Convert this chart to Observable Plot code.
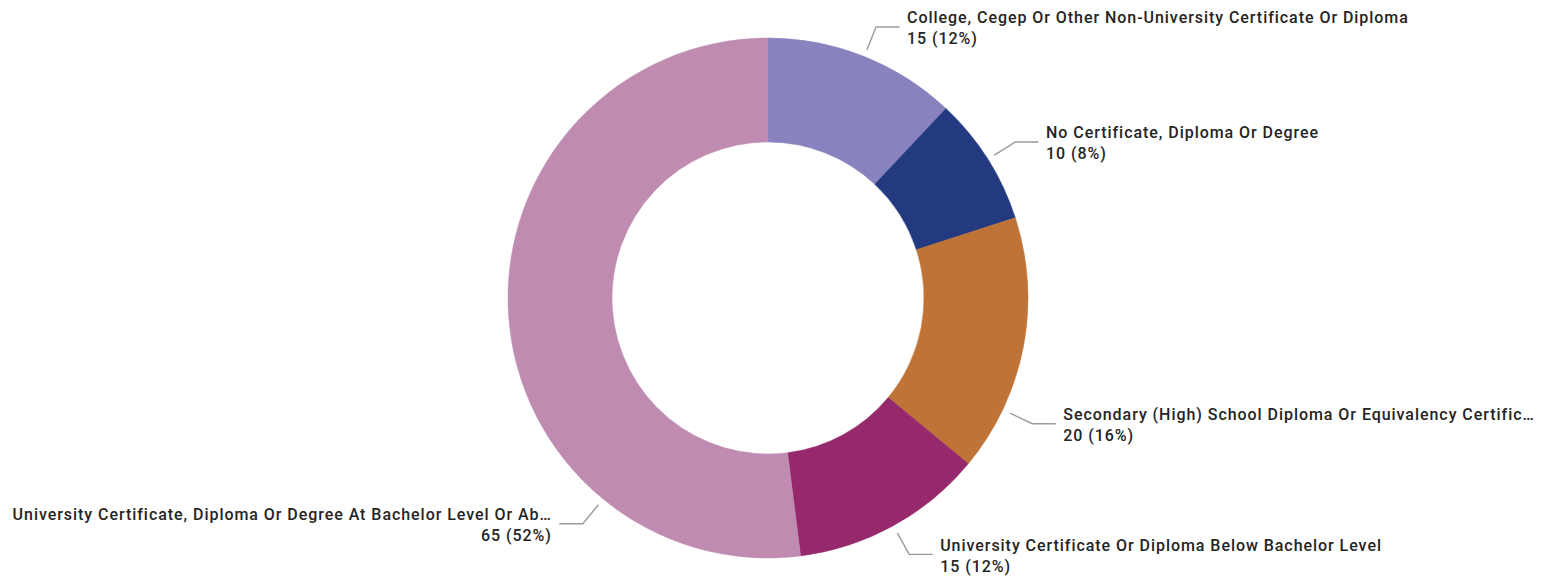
<!DOCTYPE html>
<html>
<head>
<meta charset="utf-8">
<script src="https://cdn.jsdelivr.net/npm/d3@7"></script>
<script src="https://cdn.jsdelivr.net/npm/@observablehq/plot@0.6"></script>
<style>
  html, body { margin: 0; padding: 0; background: #fff; }
  #chart { width: 1546px; height: 580px; }
</style>
</head>
<body>
<div id="chart"></div>
<script>
// ---- data ----
const categories = [
  "College, Cegep Or Other Non-University Certificate Or Diploma",
  "No Certificate, Diploma Or Degree",
  "Secondary (High) School Diploma Or Equivalency Certific…",
  "University Certificate Or Diploma Below Bachelor Level",
  "University Certificate, Diploma Or Degree At Bachelor Level Or Ab…"
];
const values = [15, 10, 20, 15, 65];

// ---- styles / layout ----
const colors = ["#8883bf", "#233a80", "#bf7337", "#95296c", "#bf8bb1"];
const labelAngles = [21.6, 57.6, 115.4, 151.2, 219.5]; // degrees clockwise from top
const W = 1546, H = 580;
const cx = 768, cy = 298, outerR = 260, innerR = 156;
const fontFamily = "Roboto, 'Noto Sans', sans-serif";

const total = d3.sum(values);
const pie = d3.pie().sort(null).value(d => d.value);
const data = categories.map((name, i) => ({
  name, value: values[i], pct: Math.round(values[i] / total * 100),
  color: colors[i], labelAngle: labelAngles[i]
}));
const arcs = pie(data);

// leader lines and labels (positions derived from angles)
const leaders = [];
const labels = [];
data.forEach(d => {
  const a = d.labelAngle * Math.PI / 180;
  const sx = cx + 268 * Math.sin(a), sy = cy - 268 * Math.cos(a);
  const ex = cx + 292 * Math.sin(a), ey = cy - 292 * Math.cos(a);
  const right = Math.sin(a) >= 0;
  const hx = ex + (right ? 23 : -23);
  leaders.push({name: d.name, x: sx, y: sy}, {name: d.name, x: ex, y: ey}, {name: d.name, x: hx, y: ey});
  labels.push({
    text: `${d.name}\n${d.value} (${d.pct}%)`,
    x: hx + (right ? 8 : -8), y: ey, anchor: right ? "start" : "end"
  });
});

const donut = (index, scales) => {
  const g = d3.create("svg:g")
    .attr("transform", `translate(${scales.x(cx)},${scales.y(cy)})`);
  const arc = d3.arc()
    .innerRadius(scales.x(innerR) - scales.x(0))
    .outerRadius(scales.x(outerR) - scales.x(0));
  g.selectAll("path").data(arcs).join("path")
    .attr("d", arc)
    .attr("fill", d => d.data.color)
    .attr("stroke", d => d.data.color)
    .attr("stroke-width", 0.5);
  return g.node();
};

const textOpts = {
  x: "x", y: "y", text: "text", lineAnchor: "middle",
  lineHeight: 1.32, fontSize: 16, fontWeight: 500, fill: "#252423"
};

const chart = Plot.plot({
  width: W, height: H,
  margin: 0,
  x: {domain: [0, W], range: [0, W], axis: null},
  y: {domain: [0, H], range: [0, H], axis: null},
  style: {fontFamily, background: "#fff", letterSpacing: "0.95px"},
  marks: [
    donut,
    Plot.line(leaders, {x: "x", y: "y", z: "name", stroke: "#9b9b9b", strokeWidth: 1.4, curve: "linear"}),
    Plot.text(labels.filter(d => d.anchor === "start"), {...textOpts, textAnchor: "start"}),
    Plot.text(labels.filter(d => d.anchor === "end"), {...textOpts, textAnchor: "end"})
  ]
});
document.getElementById("chart").appendChild(chart);
</script>
</body>
</html>
